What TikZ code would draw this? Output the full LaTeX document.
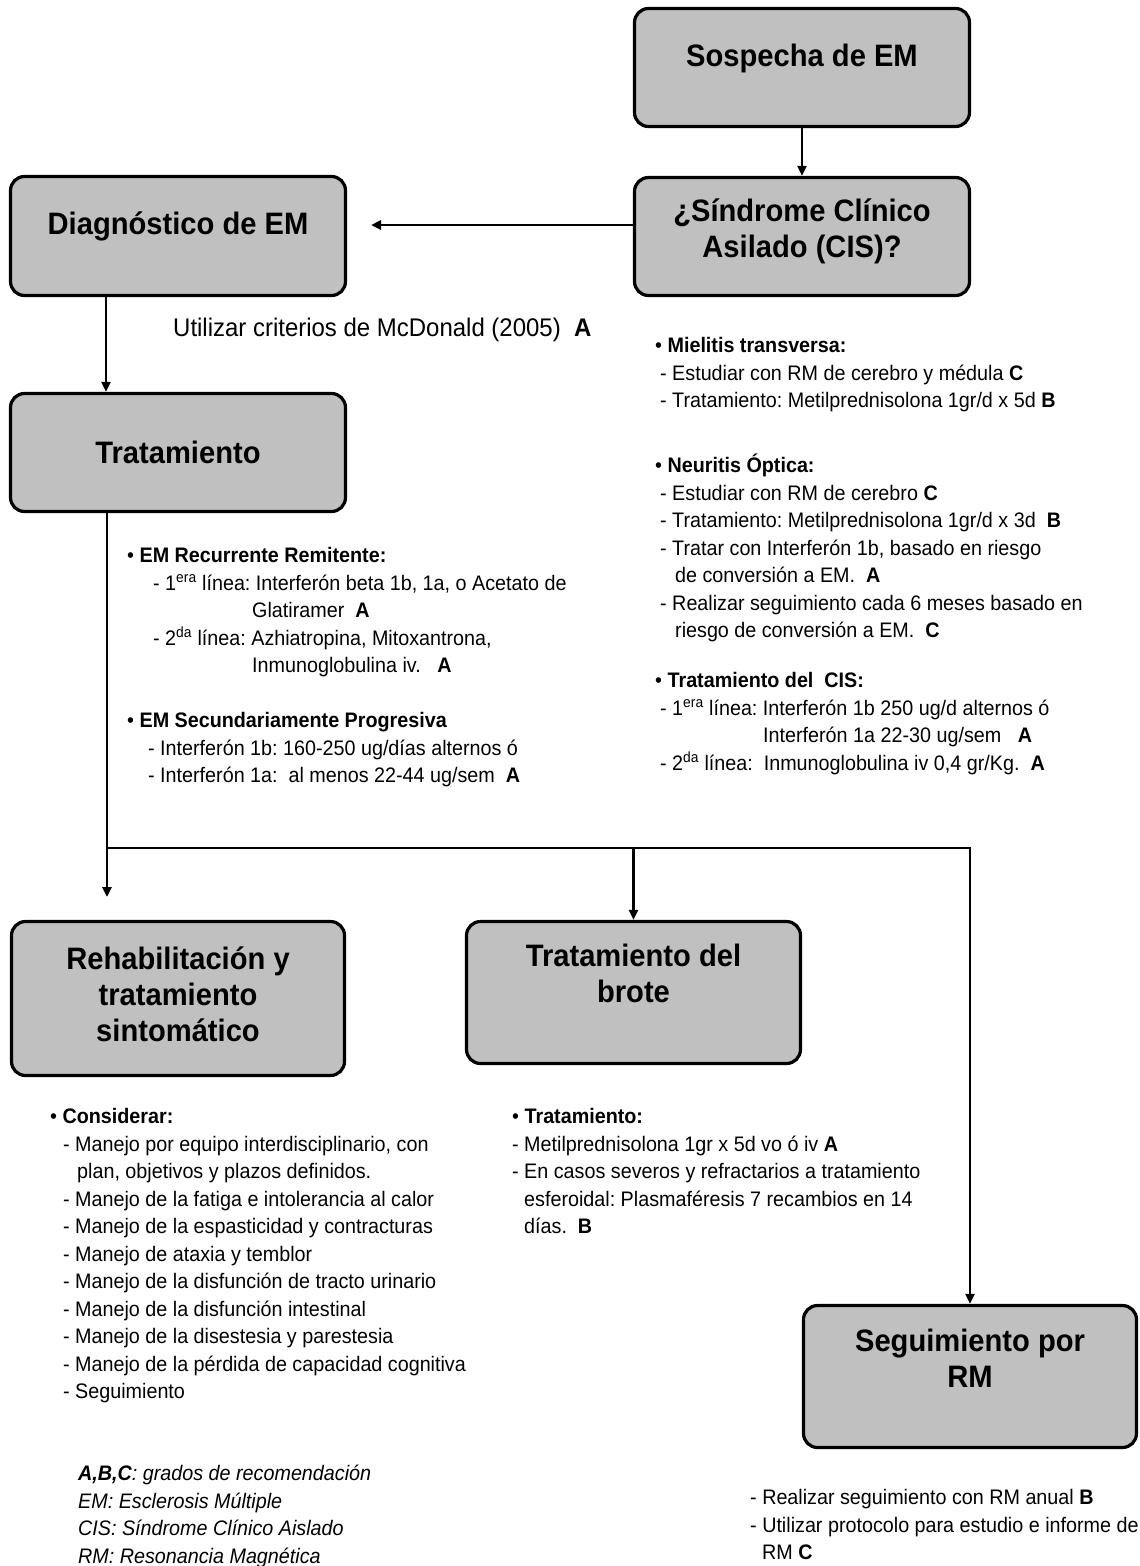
\documentclass[tikz,border=0pt]{standalone}
\usepackage{fontspec}
\setmainfont{Liberation Sans}[FakeStretch=0.94]
\usetikzlibrary{arrows.meta}
\definecolor{boxgray}{HTML}{C0C0C0}
\frenchspacing
\begin{document}
\begin{tikzpicture}[x=1pt,y=-1pt,
  box/.style={draw, line width=3.2pt, fill=boxgray, rounded corners=14pt, inner sep=0pt},
  ttl/.style={anchor=north, align=center, inner sep=0pt, font=\fontsize{31}{36}\selectfont\bfseries},
  blk/.style={anchor=north west, align=left, inner sep=0pt, font=\fontsize{21}{27.5}\selectfont},
  conn/.style={line width=2.8pt},
  arr/.style={conn, -{Triangle[length=10pt,width=9pt]}}]
\useasboundingbox (0,0) rectangle (1140,1566);

% boxes
\node[box, minimum width=335pt, minimum height=118pt] (sosp) at (802,67.5) {};
\node[box, minimum width=335pt, minimum height=118pt] (cis) at (802,236.5) {};
\node[box, minimum width=335pt, minimum height=119pt] (diag) at (178,236) {};
\node[box, minimum width=335pt, minimum height=118pt] (trat) at (178,452.5) {};
\node[box, minimum width=333pt, minimum height=154pt] (rehab) at (178,998.5) {};
\node[box, minimum width=334pt, minimum height=142pt] (brote) at (633.5,992.5) {};
\node[box, minimum width=333pt, minimum height=142pt] (seg) at (970,1376.5) {};

% titles
\node[ttl] (tsosp) at (802,40.9) {\strut Sospecha de EM};
\node[ttl] (tcis) at (802,195.9) {\strut ¿Síndrome Clínico\\Asilado (CIS)?};
\node[ttl] (tdiag) at (178,208.9) {\strut Diagnóstico de EM};
\node[ttl] (ttrat) at (178,437.9) {\strut Tratamiento};
\node[ttl] (trehab) at (178,943.9) {\strut Rehabilitación y\\tratamiento\\sintomático};
\node[ttl] (tbrote) at (633.5,940.9) {\strut Tratamiento del\\brote};
\node[ttl] (tseg) at (970,1325.9) {\strut Seguimiento por\\RM};

% connectors
\draw[arr] (sosp.south) -- (cis.north);
\coordinate (dtip) at (371,225);
\draw[arr] (cis.west |- dtip) -- (dtip);
\draw[arr] ([xshift=-72pt]diag.south) -- ([xshift=-72pt]trat.north);
\coordinate (jl) at (107,848);
\coordinate (rtip) at (107,897);
\draw[conn] ([xshift=-71pt]trat.south) -- (jl);
\draw[arr] (jl) -- (rtip);
\draw[arr] (jl) -| (seg.north);
\draw[arr] (brote.north |- jl) -- (brote.north);

% texts
\node[anchor=base west, inner sep=0pt, font=\fontsize{25.5}{30}\selectfont] (mcd) at (173,336.1)
  {Utilizar criterios de McDonald (2005)~~\textbf{A}};

\node[blk] (g4) at (127,543.25) {\strut • \textbf{EM Recurrente Remitente:}\\
\hspace*{26pt}- 1\textsuperscript{era} línea: Interferón beta 1b, 1a, o Acetato de\\
\hspace*{125pt}Glatiramer~~\textbf{A}\\
\hspace*{26pt}- 2\textsuperscript{da} línea: Azhiatropina, Mitoxantrona,\\
\hspace*{125pt}Inmunoglobulina iv.~~~\textbf{A}};

\node[blk] (g5) at (127,708.25) {\strut • \textbf{EM Secundariamente Progresiva}\\
\hspace*{21pt}- Interferón 1b: 160-250 ug/días alternos ó\\
\hspace*{21pt}- Interferón 1a:~ al menos 22-44 ug/sem~~\textbf{A}};

\node[blk] (g1) at (655,333.25) {\strut • \textbf{Mielitis transversa:}\\
\hspace*{5pt}- Estudiar con RM de cerebro y médula \textbf{C}\\
\hspace*{5pt}- Tratamiento: Metilprednisolona 1gr/d x 5d \textbf{B}};

\node[blk] (g2) at (655,453.25) {\strut • \textbf{Neuritis Óptica:}\\
\hspace*{5pt}- Estudiar con RM de cerebro \textbf{C}\\
\hspace*{5pt}- Tratamiento: Metilprednisolona 1gr/d x 3d~~\textbf{B}\\
\hspace*{5pt}- Tratar con Interferón 1b, basado en riesgo\\
\hspace*{20pt}de conversión a EM.~~\textbf{A}\\
\hspace*{5pt}- Realizar seguimiento cada 6 meses basado en\\
\hspace*{20pt}riesgo de conversión a EM.~~\textbf{C}};

\node[blk] (g3) at (655,668.25) {\strut • \textbf{Tratamiento del~ CIS:}\\
\hspace*{5pt}- 1\textsuperscript{era} línea: Interferón 1b 250 ug/d alternos ó\\
\hspace*{108pt}Interferón 1a 22-30 ug/sem~~~\textbf{A}\\
\hspace*{5pt}- 2\textsuperscript{da} línea:~ Inmunoglobulina iv 0,4 gr/Kg.~~\textbf{A}};

\node[blk] (g6) at (50,1104.25) {\strut • \textbf{Considerar:}\\
\hspace*{13pt}- Manejo por equipo interdisciplinario, con\\
\hspace*{27pt}plan, objetivos y plazos definidos.\\
\hspace*{13pt}- Manejo de la fatiga e intolerancia al calor\\
\hspace*{13pt}- Manejo de la espasticidad y contracturas\\
\hspace*{13pt}- Manejo de ataxia y temblor\\
\hspace*{13pt}- Manejo de la disfunción de tracto urinario\\
\hspace*{13pt}- Manejo de la disfunción intestinal\\
\hspace*{13pt}- Manejo de la disestesia y parestesia\\
\hspace*{13pt}- Manejo de la pérdida de capacidad cognitiva\\
\hspace*{13pt}- Seguimiento};

\node[blk] (g7) at (512,1104.25) {\strut • \textbf{Tratamiento:}\\
- Metilprednisolona 1gr x 5d vo ó iv \textbf{A}\\
- En casos severos y refractarios a tratamiento\\
\hspace*{12pt}esferoidal: Plasmaféresis 7 recambios en 14\\
\hspace*{12pt}días.~~\textbf{B}};

\node[blk] (g8) at (750,1485.25) {\strut - Realizar seguimiento con RM anual \textbf{B}\\
- Utilizar protocolo para estudio e informe de\\
\hspace*{12pt}RM \textbf{C}};

\node[blk, font=\fontsize{21}{27.5}\selectfont\itshape] (leg) at (78,1461.25) {\strut\textbf{A,B,C}: grados de recomendación\\
EM: Esclerosis Múltiple\\
CIS: Síndrome Clínico Aislado\\
RM: Resonancia Magnética};
\end{tikzpicture}
\end{document}
